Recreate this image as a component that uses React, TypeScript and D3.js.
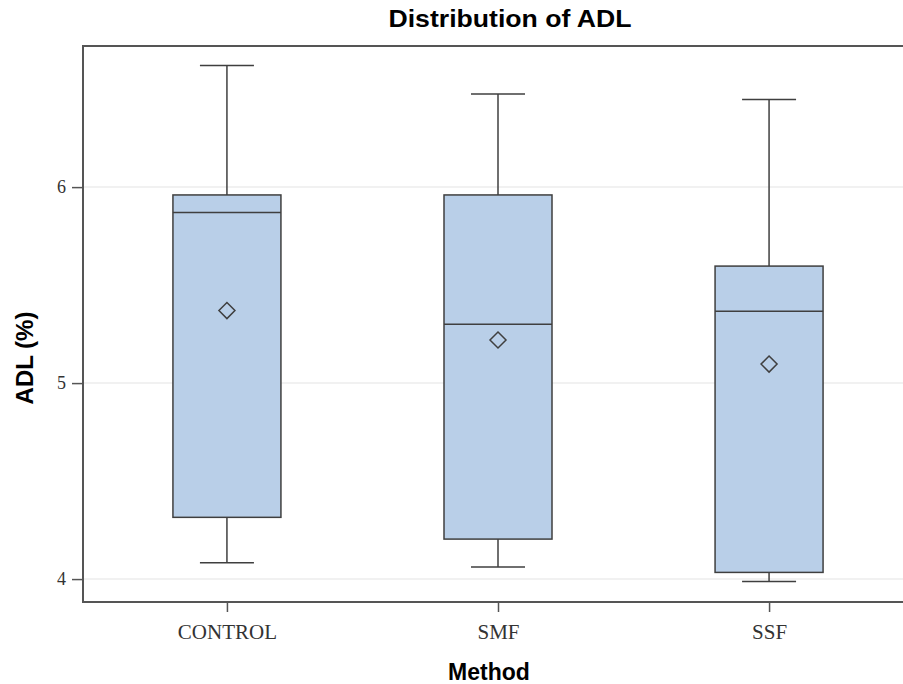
import React, { useRef, useEffect } from "react";
import * as d3 from "d3";

const methods = ["CONTROL", "SMF", "SSF"];
const whiskerLow = [4.083, 4.061, 3.988];
const q1 = [4.315, 4.204, 4.034];
const median = [5.87, 5.3, 5.367];
const q3 = [5.96, 5.96, 5.597];
const whiskerHigh = [6.62, 6.475, 6.447];
const means = [5.37, 5.22, 5.097];
const yTicks = [4, 5, 6];

const W = 903;
const H = 684;
const PLOT = { left: 83, right: 913, top: 46, bottom: 602 };
const FILL = "#b9cfe8";
const STROKE = "#3f3f3f";
const FRAME = "#555555";
const SERIF = "'Liberation Serif', 'Times New Roman', serif";
const SANS = "'Liberation Sans', Arial, sans-serif";

export default function App() {
  const ref = useRef<SVGSVGElement | null>(null);

  useEffect(() => {
    const svg = d3.select(ref.current);
    svg.selectAll("*").remove();

    const x = d3
      .scalePoint<string>()
      .domain(methods)
      .range([PLOT.left, PLOT.right])
      .padding(0.531);
    const y = d3.scaleLinear().domain([3.883, 6.72]).range([PLOT.bottom, PLOT.top]);

    const boxW = 108;
    const capW = 54;

    // grid
    svg
      .append("g")
      .selectAll("line")
      .data(yTicks)
      .enter()
      .append("line")
      .attr("x1", PLOT.left)
      .attr("x2", W)
      .attr("y1", (d) => y(d))
      .attr("y2", (d) => y(d))
      .attr("stroke", "#ececec")
      .attr("stroke-width", 1.5);

    const data = methods.map((m, i) => ({
      m,
      lo: whiskerLow[i],
      q1: q1[i],
      med: median[i],
      q3: q3[i],
      hi: whiskerHigh[i],
      mean: means[i],
    }));

    const g = svg.append("g");
    data.forEach((d) => {
      const cx = x(d.m) as number;
      // whiskers
      g.append("line")
        .attr("x1", cx).attr("x2", cx)
        .attr("y1", y(d.hi)).attr("y2", y(d.q3))
        .attr("stroke", STROKE).attr("stroke-width", 1.5);
      g.append("line")
        .attr("x1", cx).attr("x2", cx)
        .attr("y1", y(d.q1)).attr("y2", y(d.lo))
        .attr("stroke", STROKE).attr("stroke-width", 1.5);
      [d.hi, d.lo].forEach((v) => {
        g.append("line")
          .attr("x1", cx - capW / 2).attr("x2", cx + capW / 2)
          .attr("y1", y(v)).attr("y2", y(v))
          .attr("stroke", STROKE).attr("stroke-width", 1.5);
      });
      // box
      g.append("rect")
        .attr("x", cx - boxW / 2)
        .attr("y", y(d.q3))
        .attr("width", boxW)
        .attr("height", y(d.q1) - y(d.q3))
        .attr("fill", FILL)
        .attr("stroke", STROKE)
        .attr("stroke-width", 1.5);
      g.append("line")
        .attr("x1", cx - boxW / 2).attr("x2", cx + boxW / 2)
        .attr("y1", y(d.med)).attr("y2", y(d.med))
        .attr("stroke", STROKE).attr("stroke-width", 1.5);
      // mean diamond
      const s = 8;
      const my = y(d.mean);
      g.append("path")
        .attr("d", `M${cx},${my - s}L${cx + s},${my}L${cx},${my + s}L${cx - s},${my}Z`)
        .attr("fill", "none")
        .attr("stroke", STROKE)
        .attr("stroke-width", 1.5);
    });

    // frame (right side falls outside the picture)
    svg.append("path")
      .attr("d", `M${W + 5},${PLOT.top}H${PLOT.left}V${PLOT.bottom}H${W + 5}`)
      .attr("fill", "none")
      .attr("stroke", FRAME)
      .attr("stroke-width", 2);

    // y axis
    const yAxis = svg.append("g").attr("transform", `translate(${PLOT.left},0)`)
      .call(d3.axisLeft(y).tickValues(yTicks).tickSize(11).tickPadding(6).tickFormat(d3.format("d")));
    yAxis.select(".domain").remove();
    yAxis.selectAll(".tick line").attr("stroke", FRAME).attr("stroke-width", 1.5);
    yAxis.selectAll(".tick text")
      .attr("fill", "#333")
      .style("font-family", SERIF)
      .style("font-size", "18px");

    // x axis
    const xAxis = svg.append("g").attr("transform", `translate(0,${PLOT.bottom})`)
      .call(d3.axisBottom(x).tickSize(10).tickPadding(12));
    xAxis.select(".domain").remove();
    xAxis.selectAll(".tick line").attr("stroke", FRAME).attr("stroke-width", 1.5);
    xAxis.selectAll(".tick text")
      .attr("fill", "#333")
      .style("font-family", SERIF)
      .style("font-size", "21px");

    svg.append("text")
      .attr("x", 510).attr("y", 27)
      .attr("text-anchor", "middle")
      .attr("textLength", 243)
      .attr("lengthAdjust", "spacingAndGlyphs")
      .style("font-family", SANS).style("font-size", "23px").style("font-weight", "bold")
      .attr("fill", "#000")
      .text("Distribution of ADL");
    svg.append("text")
      .attr("x", 489).attr("y", 680)
      .attr("text-anchor", "middle")
      .style("font-family", SANS).style("font-size", "23px").style("font-weight", "bold")
      .attr("fill", "#000")
      .text("Method");
    svg.append("text")
      .attr("transform", `translate(33,358) rotate(-90)`)
      .attr("text-anchor", "middle")
      .style("font-family", SANS).style("font-size", "24px").style("font-weight", "bold")
      .attr("fill", "#000")
      .text("ADL (%)");
  }, []);

  return (
    <svg
      ref={ref}
      width={W}
      height={H}
      style={{ position: "absolute", left: 0, top: 0, background: "#fff" }}
    />
  );
}
